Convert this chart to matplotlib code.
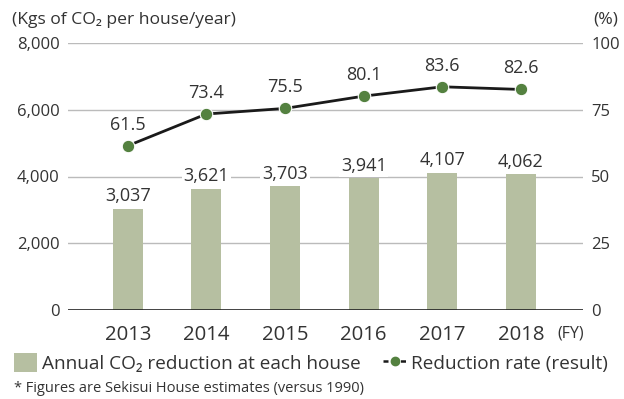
import matplotlib.pyplot as plt
from matplotlib.patches import Patch
from matplotlib.lines import Line2D

years = ["2013", "2014", "2015", "2016", "2017", "2018"]
co2_reduction = [3037, 3621, 3703, 3941, 4107, 4062]
reduction_rate = [61.5, 73.4, 75.5, 80.1, 83.6, 82.6]
left_ticks = [0, 2000, 4000, 6000, 8000]
right_ticks = [0, 25, 50, 75, 100]

plt.rcParams['font.family'] = ['Open Sans', 'DejaVu Sans']

bar_color = "#b6bfa1"
marker_color = "#548140"
text_color = "#333333"

fig = plt.figure(figsize=(6.24, 3.99), dpi=100)
ax = fig.add_axes([68 / 624, 1 - 310 / 399, (583 - 68) / 624, (310 - 43) / 399])
x = list(range(len(years)))

ax.set_xlim(-0.76, 5.79)
ax.set_ylim(0, 8000)
for t in left_ticks[1:]:
    ax.axhline(t, color="#bbbbbb", lw=1.0, zorder=0)
ax.axhline(0, color="#222222", lw=1.2, zorder=3)

ax.bar(x, co2_reduction, width=0.38, color=bar_color, zorder=2)
for xi, v in zip(x, co2_reduction):
    ax.text(xi, v + 110, f"{v:,}", ha="center", va="bottom", fontsize=13,
            color=text_color, zorder=4,
            bbox=dict(boxstyle="square,pad=0.1", fc="white", ec="none"))

for s in ax.spines.values():
    s.set_visible(False)
ax.set_yticks(left_ticks)
ax.set_yticklabels([f"{t:,}" for t in left_ticks])
ax.tick_params(axis="y", length=0, pad=6, labelsize=12, labelcolor=text_color)
ax.set_xticks(x)
ax.set_xticklabels(years)
ax.tick_params(axis="x", length=0, pad=10.5, labelsize=14.7, labelcolor=text_color)

ax2 = ax.twinx()
ax2.set_ylim(0, 100)
for s in ax2.spines.values():
    s.set_visible(False)
ax2.set_yticks(right_ticks)
ax2.tick_params(axis="y", length=0, pad=6, labelsize=12, labelcolor=text_color)
ax2.plot(x, reduction_rate, color="#1a1a1a", lw=2, zorder=3)
ax2.plot(x, reduction_rate, "o", color=marker_color, ms=9, mec="white", mew=0.8, zorder=4)
for xi, v in zip(x, reduction_rate):
    ax2.text(xi, v + 4.5, f"{v}", ha="center", va="bottom", fontsize=13,
             color=text_color, zorder=5,
             bbox=dict(boxstyle="square,pad=0.1", fc="white", ec="none"))

fig.text(12 / 624, 1 - 20 / 399, "(Kgs of CO\u2082 per house/year)", fontsize=12.6,
         color=text_color, va="center", ha="left")
fig.text(618 / 624, 1 - 20 / 399, "(%)", fontsize=12.6, color=text_color,
         va="center", ha="right")
fig.text(557 / 624, 1 - 334 / 399, "(FY)", fontsize=11.5, color=text_color,
         va="center", ha="left")

handles = [Patch(facecolor=bar_color, edgecolor="none"),
           Line2D([0], [0], color="#1a1a1a", lw=1.8, ls=(0, (2, 1.5)), marker="o",
                  markerfacecolor=marker_color, markeredgecolor=marker_color, ms=6)]
labels = ["Annual CO\u2082 reduction at each house", "Reduction rate (result)"]
fig.legend(handles, labels, loc="center left", bbox_to_anchor=(14 / 624, 1 - 363 / 399),
           ncol=2, frameon=False, fontsize=13.7, handlelength=1.2, handleheight=1.2,
           handletextpad=0.25, columnspacing=1.2, labelcolor=text_color, borderaxespad=0,
           borderpad=0)

fig.text(14 / 624, 1 - 389 / 399, "* Figures are Sekisui House estimates (versus 1990)",
         fontsize=10.5, color=text_color, va="center", ha="left")

fig.savefig("out.png", dpi=100)
